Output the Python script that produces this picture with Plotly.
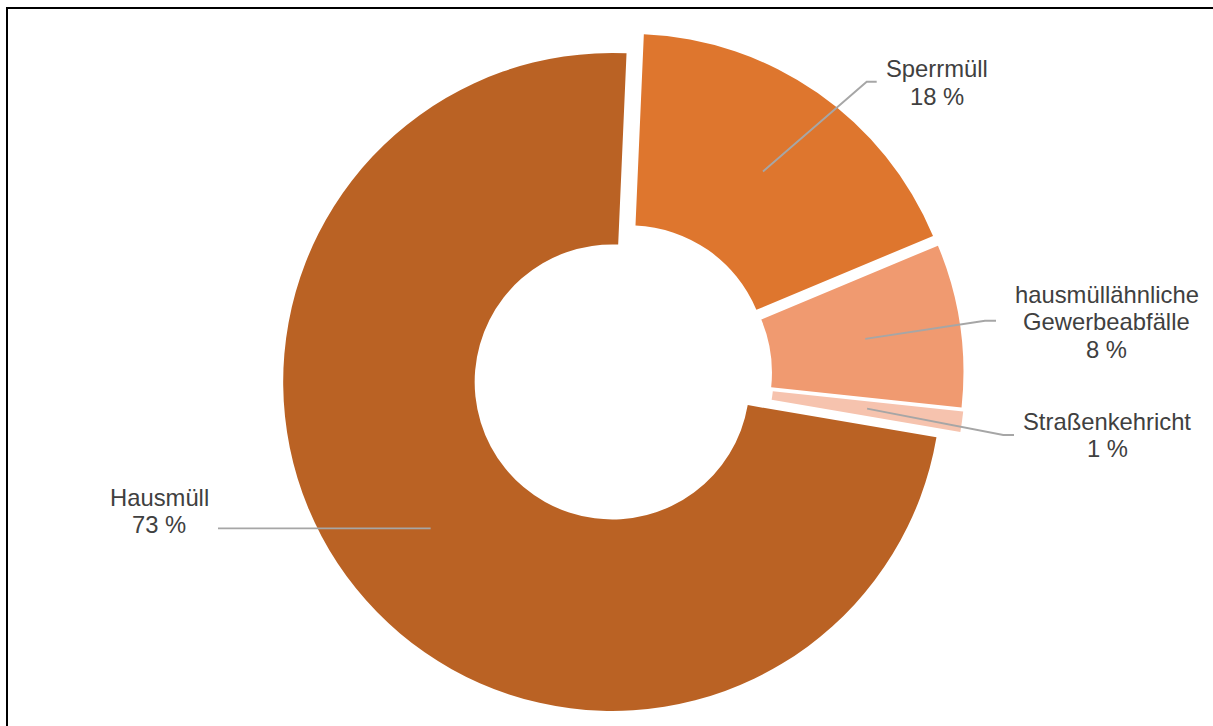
import math
import plotly.graph_objects as go

# ---- data -------------------------------------------------------------
categories = ["Sperrmüll", "hausmüllähnliche Gewerbeabfälle", "Straßenkehricht", "Hausmüll"]
label_lines = [["Sperrmüll"], ["hausmüllähnliche", "Gewerbeabfälle"], ["Straßenkehricht"], ["Hausmüll"]]
shares = [18, 8, 1, 73]

# ---- styling ----------------------------------------------------------
colors = ["#DE762E", "#F09A70", "#F6C3AE", "#BA6224"]
pulls = [0.043, 0.040, 0.045, 0.036]

W, H = 1213, 726
ROTATION = 2.5          # first slice starts slightly right of 12 o'clock
HOLE = 0.418
CX, CY = 621.4, 374.5   # pie centre (px, from top-left)
R = 329                 # outer radius (px)

FONT = "Liberation Sans, Arial, sans-serif"
TEXT_COLOR = "#404040"
LEADER_COLOR = "#A6A6A6"
FONT_SIZE = 23.8
LINE_STEP = 27.7

# label placement per slice: elbow point of the leader, end of leader
# (end y of None keeps the leader horizontal), text centre x and
# y of the first text line (all in px)
label_layout = [
    dict(elbow=(866.7, 81.7), end=(876.7, 81.7), tx=936.5, ty=68.5),
    dict(elbow=(985.0, 320.7), end=(996.0, 320.7), tx=1106.5, ty=294.0),
    dict(elbow=(1003.3, 435.0), end=(1014.0, 435.0), tx=1107.0, ty=421.0),
    dict(elbow=None, end=(218.0, None), tx=159.0, ty=497.0),
]


def px_x(x):
    return x / W


def px_y(y):
    return 1 - y / H


# pie domain so that plotly's radius (box / (2 + 2*maxPull)) equals R
half = R * (1 + max(pulls))
domain_x = [px_x(CX - half), px_x(CX + half)]
domain_y = [px_y(CY + half), px_y(CY - half)]

fig = go.Figure(
    go.Pie(
        labels=categories,
        values=shares,
        hole=HOLE,
        sort=False,
        direction="clockwise",
        rotation=ROTATION,
        pull=pulls,
        marker=dict(colors=colors, line=dict(width=0)),
        textinfo="none",
        hoverinfo="label+percent",
        showlegend=False,
        domain=dict(x=domain_x, y=domain_y),
    )
)

# leader lines start in the middle of each ring segment
total = sum(shares)
shapes = []
annotations = []
cum = 0.0
for i, v in enumerate(shares):
    a0 = ROTATION + 360 * cum / total
    cum += v
    a1 = ROTATION + 360 * cum / total
    mid = math.radians((a0 + a1) / 2)
    ring_mid = (HOLE * R + R) / 2 + pulls[i] * R
    sx = CX + ring_mid * math.sin(mid)
    sy = CY - ring_mid * math.cos(mid)

    lay = label_layout[i]
    pts = [(sx, sy)]
    if lay["elbow"] is not None:
        pts.append(lay["elbow"])
    ex, ey = lay["end"]
    pts.append((ex, sy if ey is None else ey))
    path = "M " + " L ".join(f"{px_x(x):.5f},{px_y(y):.5f}" for x, y in pts)
    shapes.append(dict(type="path", xref="paper", yref="paper", path=path,
                       line=dict(color=LEADER_COLOR, width=1.9), layer="above"))

    lines = label_lines[i] + [f"{v} %"]
    for k, txt in enumerate(lines):
        annotations.append(dict(
            x=px_x(lay["tx"]), y=px_y(lay["ty"] + k * LINE_STEP),
            xref="paper", yref="paper", xanchor="center", yanchor="middle",
            text=txt, showarrow=False,
            font=dict(family=FONT, size=FONT_SIZE, color=TEXT_COLOR),
        ))

# frame line along the top and left edge
shapes.append(dict(type="rect", xref="paper", yref="paper",
                   x0=px_x(7), x1=1.02, y0=-0.02, y1=px_y(8),
                   line=dict(color="#000000", width=2), fillcolor="rgba(0,0,0,0)",
                   layer="above"))

fig.update_layout(
    width=W, height=H,
    margin=dict(l=0, r=0, t=0, b=0),
    paper_bgcolor="#FFFFFF",
    plot_bgcolor="#FFFFFF",
    shapes=shapes,
    annotations=annotations,
    font=dict(family=FONT, color=TEXT_COLOR),
)

fig.write_html("out.html")
